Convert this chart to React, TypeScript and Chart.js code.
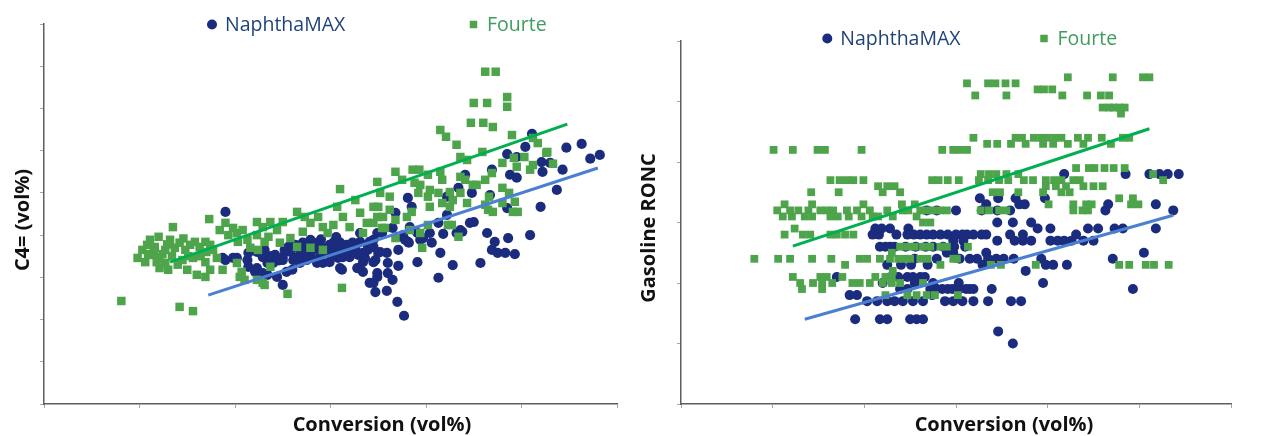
import React, { useEffect, useRef } from "react";
import { Chart, registerables } from "chart.js";

Chart.register(...registerables);

type P = [number, number];

// ---------- series names ----------
const seriesNames = ["NaphthaMAX", "Fourte"];

// ---------- axis titles ----------
const leftXTitle = "Conversion (vol%)";
const leftYTitle = "C4= (vol%)";
const rightXTitle = "Conversion (vol%)";
const rightYTitle = "Gasoline RONC";

// ---------- axis ranges (tick labels are hidden in the source) ----------
const leftXRange = [0, 60, 10];
const leftYRange = [0, 9, 1];
const rightXRange = [0, 60, 10];
const rightYRange = [0, 6, 1];

// ---------- left panel: C4= vs conversion ----------
const c4Fourte: P[] = [
  [8.1, 2.44], [14.2, 2.3], [15.6, 2.2], [13.5, 4.19], [12.0, 3.96], [17.3, 4.38], [25.5, 2.61], [31.2, 2.75], [31.0, 5.09],
  [46.2, 7.87], [47.3, 7.87], [45.0, 7.13], [46.4, 7.13], [48.5, 7.27], [48.5, 7.04], [44.7, 6.66], [46.0, 6.66], [47.0, 6.56],
  [41.5, 6.49], [42.1, 6.33], [43.2, 6.14], [49.0, 6.37], [45.9, 5.97], [43.6, 5.85], [44.3, 5.78], [52.7, 5.97], [51.7, 6.18], [51.2, 6.3],
  [49.2, 5.83], [50.3, 5.85], [51.2, 5.66], [53.3, 5.69], [50.9, 5.55], [46.9, 5.47], [46.2, 5.31], [52.6, 5.95], [48.0, 5.71], [49.5, 5.62], [45.3, 5.19],
  [36.8, 5.5], [38.6, 5.55], [39.3, 5.55], [37.5, 5.31], [38.8, 5.24], [39.4, 5.19], [40.2, 5.43], [41.5, 5.5], [41.7, 5.31], [40.4, 5.07], [43.6, 5.38], [44.1, 5.31], [44.9, 5.19],
  [34.9, 5.26], [35.2, 5.0], [36.2, 4.91], [35.0, 4.67], [36.2, 4.6], [39.2, 5.0], [40.2, 4.91], [41.3, 5.0], [42.5, 5.02], [43.6, 5.0], [42.8, 4.83], [41.7, 4.76], [40.4, 4.67],
  [38.5, 4.55], [38.0, 4.43], [36.8, 4.36], [35.5, 4.43], [34.5, 4.29], [35.7, 4.17],
  [48.0, 5.12], [48.7, 5.0], [46.6, 4.91], [49.3, 4.79], [48.0, 4.76], [46.5, 4.6], [47.0, 4.55], [49.1, 4.55], [49.6, 4.55], [46.2, 4.72], [44.3, 4.76], [42.5, 4.67],
  [42.7, 4.24], [39.4, 4.05], [43.4, 3.96], [39.6, 3.7], [36.8, 3.93], [38.3, 4.12], [42.3, 4.24], [40.2, 4.24], [35.4, 4.17], [33.4, 4.05], [30.3, 4.24],
  [26.5, 4.55], [27.3, 4.43], [27.9, 4.29], [28.7, 4.43], [29.2, 4.19], [29.7, 4.05], [30.7, 4.67], [31.3, 4.43], [32.0, 4.19], [32.6, 4.83], [33.1, 4.53],
  [33.8, 4.29], [34.5, 4.67], [34.9, 4.43], [27.1, 4.08], [25.8, 3.93], [24.7, 3.82], [29.2, 3.65], [26.5, 3.72], [27.9, 3.7],
  [18.4, 4.12], [19.0, 4.29], [19.8, 4.17], [19.3, 4.0], [20.2, 4.05], [20.8, 4.12], [20.3, 3.84], [21.3, 3.89], [22.3, 4.31], [22.9, 4.19], [23.7, 4.31],
  [24.4, 4.12], [25.0, 4.31], [23.5, 3.96], [22.3, 4.0], [21.6, 3.7], [22.4, 3.65], [23.1, 3.84],
  [20.2, 3.34], [20.7, 3.13], [21.0, 2.94], [22.3, 2.94], [22.9, 2.87], [23.7, 3.25], [18.7, 3.18], [17.4, 3.18], [16.9, 3.01], [16.0, 3.06], [15.0, 3.18], [20.5, 3.01], [23.1, 2.82],
  [10.3, 3.65], [10.8, 3.77], [11.6, 3.72], [11.3, 3.53], [12.1, 3.46], [12.7, 3.34], [12.1, 3.22], [13.0, 3.18], [11.8, 3.36], [13.7, 3.7], [14.2, 3.82], [14.8, 3.65],
  [15.3, 3.77], [15.8, 3.84], [16.3, 3.72], [16.9, 3.84], [17.4, 3.77], [17.7, 3.65], [14.5, 3.41], [15.6, 3.46], [16.9, 3.36], [18.1, 3.46], [9.8, 3.46], [10.6, 3.36],
  [11.1, 3.89], [13.2, 3.89], [12.7, 3.65],
  [11.5, 3.6], [12.4, 3.55], [13.4, 3.5], [14.0, 3.3], [15.1, 3.5], [16.4, 3.5], [17.0, 3.6], [10.9, 3.55], [12.9, 3.78], [14.6, 3.92],
];

const c4NaphthaMAX: P[] = [
  [19.0, 4.55], [18.7, 3.46], [19.8, 3.46], [19.0, 3.41], [20.2, 3.46], [21.3, 3.41], [21.4, 3.25], [22.1, 3.13], [22.3, 3.22], [22.9, 3.1], [23.4, 3.06],
  [24.4, 3.01], [25.0, 2.82], [25.4, 3.13], [24.0, 3.34], [25.0, 3.41], [25.8, 3.6], [26.5, 3.46], [27.1, 3.82], [27.9, 3.89], [28.2, 3.65], [28.9, 3.48],
  [29.6, 3.7], [30.3, 3.72], [31.0, 3.82], [31.7, 3.77], [31.3, 3.48], [31.0, 3.22], [32.8, 3.22], [33.4, 3.36], [33.1, 3.84], [33.9, 3.65], [34.5, 3.89],
  [34.9, 4.05], [34.9, 3.01], [34.1, 2.87], [22.3, 3.6], [22.9, 3.48], [21.4, 3.58], [23.4, 3.34], [26.8, 3.34], [27.5, 3.41], [29.2, 3.34], [29.9, 3.36],
  [32.0, 3.48], [26.0, 3.18], [25.0, 3.48], [26.1, 3.41], [26.8, 3.48], [27.9, 3.58], [28.6, 3.34], [27.5, 3.7], [28.2, 3.82], [28.7, 3.7], [30.5, 3.6],
  [32.4, 3.65], [29.9, 3.77], [26.8, 3.65], [26.3, 3.77], [28.9, 3.77], [31.5, 3.65], [32.9, 3.53], [25.2, 3.65], [24.2, 3.53], [23.1, 3.65], [30.8, 3.46], [32.3, 3.82],
  [31.2, 3.18], [33.4, 3.13], [34.5, 3.36], [35.0, 3.58], [33.4, 3.58], [33.9, 3.77], [37.1, 3.65], [35.9, 3.58], [37.8, 3.89], [37.0, 3.96], [35.4, 4.05],
  [33.1, 4.05], [30.3, 3.82], [41.8, 4.03], [43.2, 4.05], [44.6, 4.29], [43.6, 4.12], [40.4, 4.05], [39.7, 3.93], [39.1, 4.05], [38.2, 3.82], [37.1, 3.27],
  [37.0, 2.42], [37.7, 2.09], [35.9, 2.68], [34.7, 2.65], [34.5, 2.87], [36.5, 2.94], [36.0, 3.1], [34.9, 3.1], [34.7, 3.41], [35.2, 3.6], [34.5, 3.72],
  [36.0, 3.34], [34.1, 3.84], [36.5, 4.17], [37.6, 4.0], [38.1, 3.84], [39.4, 3.89], [38.3, 4.19], [36.8, 4.53], [38.1, 4.88], [38.5, 4.67], [39.1, 3.36],
  [40.6, 3.82], [41.5, 3.58], [41.3, 2.99], [42.8, 3.29], [42.2, 4.48], [42.2, 4.91], [43.4, 5.12], [41.3, 4.29], [44.1, 5.43], [44.8, 5.0], [45.0, 4.31],
  [46.4, 4.05], [43.8, 4.08], [45.7, 3.34], [48.6, 3.93], [47.2, 3.84], [46.9, 3.65], [47.5, 3.58], [48.3, 3.58], [49.3, 3.55], [50.9, 4.0], [46.7, 4.95],
  [48.5, 4.64], [52.0, 4.67], [46.9, 5.55], [48.8, 5.43], [49.5, 5.36], [53.7, 5.07], [52.1, 5.73], [52.2, 5.5], [54.3, 5.55], [51.1, 6.4], [50.4, 6.09],
  [48.5, 5.92], [49.5, 5.85], [54.7, 6.07], [56.3, 6.16], [57.2, 5.81], [58.2, 5.9], [53.0, 5.71],
  [25.6, 3.72], [26.9, 3.6], [27.2, 3.53], [28.0, 3.46], [29.4, 3.58], [30.1, 3.5], [30.9, 3.62], [31.8, 3.55], [32.6, 3.7], [33.6, 3.46],
  [29.0, 3.9], [30.6, 3.95], [24.6, 3.4], [23.8, 3.5],
];

const c4FourteTrend: P[] = [[13.2, 3.36], [54.8, 6.63]];
const c4NaphthaMAXTrend: P[] = [[17.2, 2.58], [58.0, 5.59]];

// ---------- right panel: gasoline RONC vs conversion ----------
const roncFourte: P[] = [
  [42.2, 5.4], [47.1, 5.4], [50.4, 5.4], [51.1, 5.4],
  [31.2, 5.3], [33.5, 5.3], [34.3, 5.3], [35.4, 5.3], [36.5, 5.3],
  [38.9, 5.2], [39.6, 5.2], [40.5, 5.2],
  [32.1, 5.1], [35.5, 5.1], [41.6, 5.1], [44.3, 5.1], [45.8, 5.1], [46.7, 5.1],
  [46.0, 4.9], [46.7, 4.9], [47.2, 4.9], [47.8, 4.9], [48.4, 4.9], [48.0, 4.8],
  [31.9, 4.4], [36.5, 4.4], [37.2, 4.4], [38.5, 4.4], [39.3, 4.4], [40.0, 4.4], [40.8, 4.4], [41.5, 4.4], [43.3, 4.4], [44.4, 4.4], [45.9, 4.4], [48.2, 4.4], [48.9, 4.4],
  [33.4, 4.3], [34.5, 4.3], [36.0, 4.3], [37.6, 4.3], [39.5, 4.3], [40.6, 4.3], [42.2, 4.3], [43.9, 4.3], [46.9, 4.3],
  [10.1, 4.2], [12.2, 4.2], [14.9, 4.2], [15.7, 4.2], [19.7, 4.2], [28.5, 4.2], [29.7, 4.2], [30.4, 4.2], [31.2, 4.2],
  [43.1, 3.9], [44.5, 3.9], [45.1, 3.9], [46.2, 3.9], [47.2, 3.9], [48.4, 3.9],
  [32.7, 3.8], [33.6, 3.8], [34.4, 3.8], [35.5, 3.8], [36.8, 3.8], [51.5, 3.8],
  [16.3, 3.7], [17.3, 3.7], [18.1, 3.7], [18.8, 3.7], [19.9, 3.7], [27.4, 3.7], [28.1, 3.7], [29.1, 3.7], [30.3, 3.7], [32.5, 3.7], [33.5, 3.7],
  [34.7, 3.7], [35.7, 3.7], [37.4, 3.7], [38.4, 3.7], [39.8, 3.7], [40.7, 3.7], [41.5, 3.7], [42.8, 3.7], [43.5, 3.7], [52.6, 3.7],
  [21.5, 3.6], [22.5, 3.6], [23.3, 3.6], [39.8, 3.6], [40.9, 3.6], [42.0, 3.6], [43.9, 3.6], [45.0, 3.6], [46.0, 3.6],
  [14.2, 3.5], [17.2, 3.5], [22.0, 3.5], [23.9, 3.5], [34.0, 3.5], [34.8, 3.5], [36.8, 3.5], [39.5, 3.5], [41.5, 3.5], [42.4, 3.5],
  [47.8, 3.4], [49.3, 3.4],
  [11.3, 3.3], [14.3, 3.3], [19.9, 3.3], [24.1, 3.3], [25.5, 3.3], [40.1, 3.3], [42.8, 3.3], [44.2, 3.3], [44.8, 3.3], [49.1, 3.3], [49.9, 3.3],
  [10.5, 3.2], [11.9, 3.2], [12.8, 3.2], [13.9, 3.2], [15.2, 3.2], [15.9, 3.2], [16.6, 3.2], [18.1, 3.2], [19.2, 3.2], [20.6, 3.2], [22.5, 3.2], [24.2, 3.2],
  [24.8, 3.2], [26.1, 3.2], [26.8, 3.2], [27.5, 3.2], [28.3, 3.2], [29.0, 3.2], [32.7, 3.2], [33.6, 3.2], [34.7, 3.2], [35.5, 3.2], [42.8, 3.2], [43.8, 3.2], [44.4, 3.2],
  [11.1, 3.1], [12.1, 3.1], [13.5, 3.1], [14.3, 3.1], [16.3, 3.1], [17.1, 3.1], [18.3, 3.1], [19.7, 3.1], [20.9, 3.1], [21.5, 3.1], [23.1, 3.1], [25.7, 3.1],
  [26.4, 3.0], [27.2, 3.0], [12.4, 2.9],
  [11.3, 2.8], [13.3, 2.8], [14.1, 2.8], [16.3, 2.8], [17.0, 2.8], [17.9, 2.8], [18.8, 2.8],
  [23.9, 2.6], [24.7, 2.6], [25.5, 2.6], [26.4, 2.6], [27.2, 2.6], [28.3, 2.6], [29.0, 2.6], [31.3, 2.6], [23.0, 2.5],
  [8.0, 2.4], [10.6, 2.4], [11.9, 2.4], [14.3, 2.4], [16.4, 2.4], [19.5, 2.4], [20.3, 2.4], [21.7, 2.4], [22.8, 2.4], [23.7, 2.4], [24.4, 2.4],
  [25.0, 2.4], [26.1, 2.4], [26.9, 2.4], [29.7, 2.4], [30.1, 2.4],
  [17.9, 2.3], [28.3, 2.3], [33.8, 2.3], [34.9, 2.3], [38.7, 2.3], [47.8, 2.3], [48.9, 2.3], [50.7, 2.3], [51.6, 2.3], [53.2, 2.3],
  [23.1, 2.2],
  [12.2, 2.1], [15.2, 2.1], [15.9, 2.1], [17.6, 2.1], [21.2, 2.1], [22.3, 2.1], [23.0, 2.1],
  [13.0, 2.0], [14.4, 2.0], [15.4, 2.0], [16.5, 2.0], [18.7, 2.0], [19.5, 2.0], [20.6, 2.0], [22.0, 2.0], [23.0, 2.0], [23.9, 2.0], [26.4, 2.0],
  [13.2, 1.9], [15.4, 1.9],
  [22.3, 1.8], [24.7, 1.8], [25.7, 1.8], [26.8, 1.8], [27.7, 1.8], [30.2, 1.8],
];

const roncNaphthaMAX: P[] = [
  [41.8, 3.8], [48.5, 3.8], [51.1, 3.8], [52.2, 3.8], [53.1, 3.8], [54.3, 3.8],
  [32.6, 3.4], [34.6, 3.4], [36.5, 3.4], [39.7, 3.4],
  [33.3, 3.3], [36.9, 3.3], [37.5, 3.3], [46.6, 3.3], [51.8, 3.3],
  [26.8, 3.2], [27.9, 3.2], [30.0, 3.2], [32.8, 3.2], [34.5, 3.2], [35.9, 3.2], [46.3, 3.2], [53.7, 3.2],
  [34.5, 3.0], [36.2, 3.0], [38.2, 3.0],
  [21.9, 2.9], [22.8, 2.9], [24.8, 2.9], [38.9, 2.9], [40.3, 2.9], [44.4, 2.9], [45.5, 2.9], [47.3, 2.9], [48.2, 2.9], [51.8, 2.9], [21.2, 2.9],
  [20.9, 2.8], [21.6, 2.8], [23.5, 2.8], [24.7, 2.8], [25.4, 2.8], [26.1, 2.8], [26.8, 2.8], [27.5, 2.8], [28.3, 2.8], [29.1, 2.8], [30.0, 2.8], [30.7, 2.8],
  [31.2, 2.8], [31.9, 2.8], [32.8, 2.8], [33.3, 2.8], [35.9, 2.8], [37.3, 2.8], [43.1, 2.8],
  [29.7, 2.7], [30.8, 2.7], [34.5, 2.7], [36.4, 2.7], [37.3, 2.7], [38.2, 2.7], [40.3, 2.7], [41.1, 2.7], [41.8, 2.7], [42.6, 2.7], [43.9, 2.7], [45.0, 2.7],
  [21.7, 2.6], [22.3, 2.6], [22.8, 2.6], [23.3, 2.6], [24.5, 2.6], [25.6, 2.6], [26.7, 2.6], [27.5, 2.6], [28.6, 2.6], [29.8, 2.6], [31.0, 2.6],
  [29.0, 2.5], [29.7, 2.5], [33.3, 2.5], [50.5, 2.5],
  [25.5, 2.4], [27.9, 2.4], [30.4, 2.4], [31.5, 2.4], [32.3, 2.4], [33.5, 2.4], [34.4, 2.4], [35.2, 2.4], [36.3, 2.4], [39.3, 2.4], [47.1, 2.4],
  [22.5, 2.3], [24.0, 2.3], [25.1, 2.3], [26.9, 2.3], [32.9, 2.3], [39.8, 2.3], [40.6, 2.3], [42.1, 2.3],
  [37.6, 2.2],
  [17.0, 2.1], [22.9, 2.1], [23.7, 2.1], [24.7, 2.1], [25.3, 2.1], [26.1, 2.1], [26.6, 2.1],
  [22.0, 2.0], [25.5, 2.0], [27.5, 2.0], [30.3, 2.0], [39.5, 2.0],
  [23.9, 1.9], [24.7, 1.9], [27.2, 1.9], [27.9, 1.9], [28.5, 1.9], [29.1, 1.9], [29.6, 1.9], [30.4, 1.9], [31.1, 1.9], [31.5, 1.9], [31.9, 1.9], [33.9, 1.9], [49.3, 1.9],
  [18.4, 1.8], [19.2, 1.8], [27.4, 1.8],
  [20.3, 1.7], [21.4, 1.7], [22.5, 1.7], [23.3, 1.7], [24.2, 1.7], [25.3, 1.7], [26.4, 1.7], [28.8, 1.7], [29.7, 1.7], [30.7, 1.7], [31.9, 1.7],
  [33.5, 1.7], [36.0, 1.7], [37.1, 1.7],
  [19.0, 1.4], [21.7, 1.4], [22.5, 1.4], [25.0, 1.4], [25.7, 1.4], [26.4, 1.4],
  [34.6, 1.2], [36.2, 1.0],
];

const roncFourteTrend: P[] = [[12.2, 2.61], [51.1, 4.55]];
const roncNaphthaMAXTrend: P[] = [[13.5, 1.4], [53.7, 3.12]];

// ---------- styles ----------
const NAVY = "#1b2c7e";
const GREEN = "#4ea44b";
const GREEN_LINE = "#00b050";
const BLUE_LINE = "#4a7fd2";
const NAVY_TEXT = "#1f4379";
const GREEN_TEXT = "#3f9c5e";
const AXIS = "#5e5e5e";
const TICK = "#a8a8a8";
const FONT = "'Open Sans', 'Noto Sans', sans-serif";

const W = 633;
const H = 436;

type Spec = {
  naphtha: P[];
  fourte: P[];
  naphthaTrend: P[];
  fourteTrend: P[];
  xRange: number[];
  yRange: number[];
  xTitle: string;
  yTitle: string;
  area: { left: number; top: number; right: number; bottom: number };
  dot: number;
  sq: number;
  xTitlePos: [number, number];
  yTitlePos: [number, number];
  legendY: number;
  legendDotX: number;
  legendSqX: number;
};

const leftSpec: Spec = {
  naphtha: c4NaphthaMAX,
  fourte: c4Fourte,
  naphthaTrend: c4NaphthaMAXTrend,
  fourteTrend: c4FourteTrend,
  xRange: leftXRange,
  yRange: leftYRange,
  xTitle: leftXTitle,
  yTitle: leftYTitle,
  area: { left: 44, top: 24, right: 617, bottom: 404 },
  dot: 5.1,
  sq: 6.0,
  xTitlePos: [382, 431],
  yTitlePos: [29, 220],
  legendY: 24.5,
  legendDotX: 212,
  legendSqX: 473.5,
};

const rightSpec: Spec = {
  naphtha: roncNaphthaMAX,
  fourte: roncFourte,
  naphthaTrend: roncNaphthaMAXTrend,
  fourteTrend: roncFourteTrend,
  xRange: rightXRange,
  yRange: rightYRange,
  xTitle: rightXTitle,
  yTitle: rightYTitle,
  area: { left: 48, top: 41, right: 598, bottom: 404 },
  dot: 5.0,
  sq: 5.5,
  xTitlePos: [371, 431],
  yTitlePos: [22, 228],
  legendY: 38.5,
  legendDotX: 194.3,
  legendSqX: 411,
};

const toXY = (pts: P[]) => pts.map(([x, y]) => ({ x, y }));

function textPlugin(spec: Spec) {
  return {
    id: "panelText",
    afterDraw(chart: any) {
      const ctx: CanvasRenderingContext2D = chart.ctx;
      ctx.save();
      // axis titles
      ctx.fillStyle = "#111111";
      ctx.font = `bold 20px ${FONT}`;
      ctx.textAlign = "center";
      ctx.textBaseline = "alphabetic";
      ctx.fillText(spec.xTitle, spec.xTitlePos[0], spec.xTitlePos[1]);
      ctx.save();
      ctx.translate(spec.yTitlePos[0], spec.yTitlePos[1]);
      ctx.rotate(-Math.PI / 2);
      ctx.fillText(spec.yTitle, 0, 0);
      ctx.restore();
      // legend
      const ly = spec.legendY;
      ctx.font = `19.5px ${FONT}`;
      ctx.textAlign = "left";
      ctx.textBaseline = "middle";
      ctx.fillStyle = NAVY;
      ctx.beginPath();
      ctx.arc(spec.legendDotX, ly, 5, 0, Math.PI * 2);
      ctx.fill();
      ctx.fillStyle = NAVY_TEXT;
      ctx.fillText(seriesNames[0], spec.legendDotX + 13, ly + 1);
      ctx.fillStyle = GREEN;
      ctx.fillRect(spec.legendSqX - 3.75, ly - 3.75, 7.5, 7.5);
      ctx.fillStyle = GREEN_TEXT;
      ctx.fillText(seriesNames[1], spec.legendSqX + 13.5, ly + 1);
      ctx.restore();
    },
  };
}

function Panel({ spec }: { spec: Spec }) {
  const ref = useRef<HTMLCanvasElement>(null);
  useEffect(() => {
    const axis = (range: number[], fit: (s: any) => void) => ({
      type: "linear" as const,
      min: range[0],
      max: range[1],
      ticks: { stepSize: range[2], display: false },
      grid: {
        drawOnChartArea: false,
        drawTicks: true,
        tickLength: 4,
        color: TICK,
        tickColor: TICK,
        lineWidth: 1,
      },
      border: { display: true, color: AXIS, width: 1.5 },
      title: { display: false },
      afterFit: fit,
    });
    const chart = new Chart(ref.current as HTMLCanvasElement, {
      type: "scatter",
      data: {
        datasets: [
          {
            label: seriesNames[1] + " trend",
            data: toXY(spec.fourteTrend),
            showLine: true,
            borderColor: GREEN_LINE,
            backgroundColor: GREEN_LINE,
            borderWidth: 3,
            pointRadius: 0,
            order: 0,
          },
          {
            label: seriesNames[0] + " trend",
            data: toXY(spec.naphthaTrend),
            showLine: true,
            borderColor: BLUE_LINE,
            backgroundColor: BLUE_LINE,
            borderWidth: 3,
            pointRadius: 0,
            order: 0,
          },
          {
            label: seriesNames[1],
            data: toXY(spec.fourte),
            pointStyle: "rect",
            pointRadius: spec.sq,
            backgroundColor: GREEN,
            borderWidth: 0,
            order: 1,
          },
          {
            label: seriesNames[0],
            data: toXY(spec.naphtha),
            pointStyle: "circle",
            pointRadius: spec.dot,
            backgroundColor: NAVY,
            borderWidth: 0,
            order: 2,
          },
        ],
      },
      options: {
        responsive: false,
        animation: false,
        events: [],
        layout: {
          padding: { left: 0, top: spec.area.top, right: W - spec.area.right, bottom: 0 },
        },
        plugins: {
          legend: { display: false },
          tooltip: { enabled: false },
          title: { display: false },
        },
        scales: {
          x: axis(spec.xRange, (s: any) => {
            s.height = H - spec.area.bottom;
          }),
          y: axis(spec.yRange, (s: any) => {
            s.width = spec.area.left;
          }),
        },
      } as any,
      plugins: [textPlugin(spec)],
    });
    return () => chart.destroy();
  }, [spec]);
  return <canvas ref={ref} width={W} height={H} style={{ display: "block", width: W, height: H }} />;
}

export default function App() {
  return (
    <div
      style={{
        position: "absolute",
        left: 0,
        top: 0,
        width: 1266,
        height: 436,
        display: "flex",
        background: "#ffffff",
      }}
    >
      <Panel spec={leftSpec} />
      <Panel spec={rightSpec} />
    </div>
  );
}
